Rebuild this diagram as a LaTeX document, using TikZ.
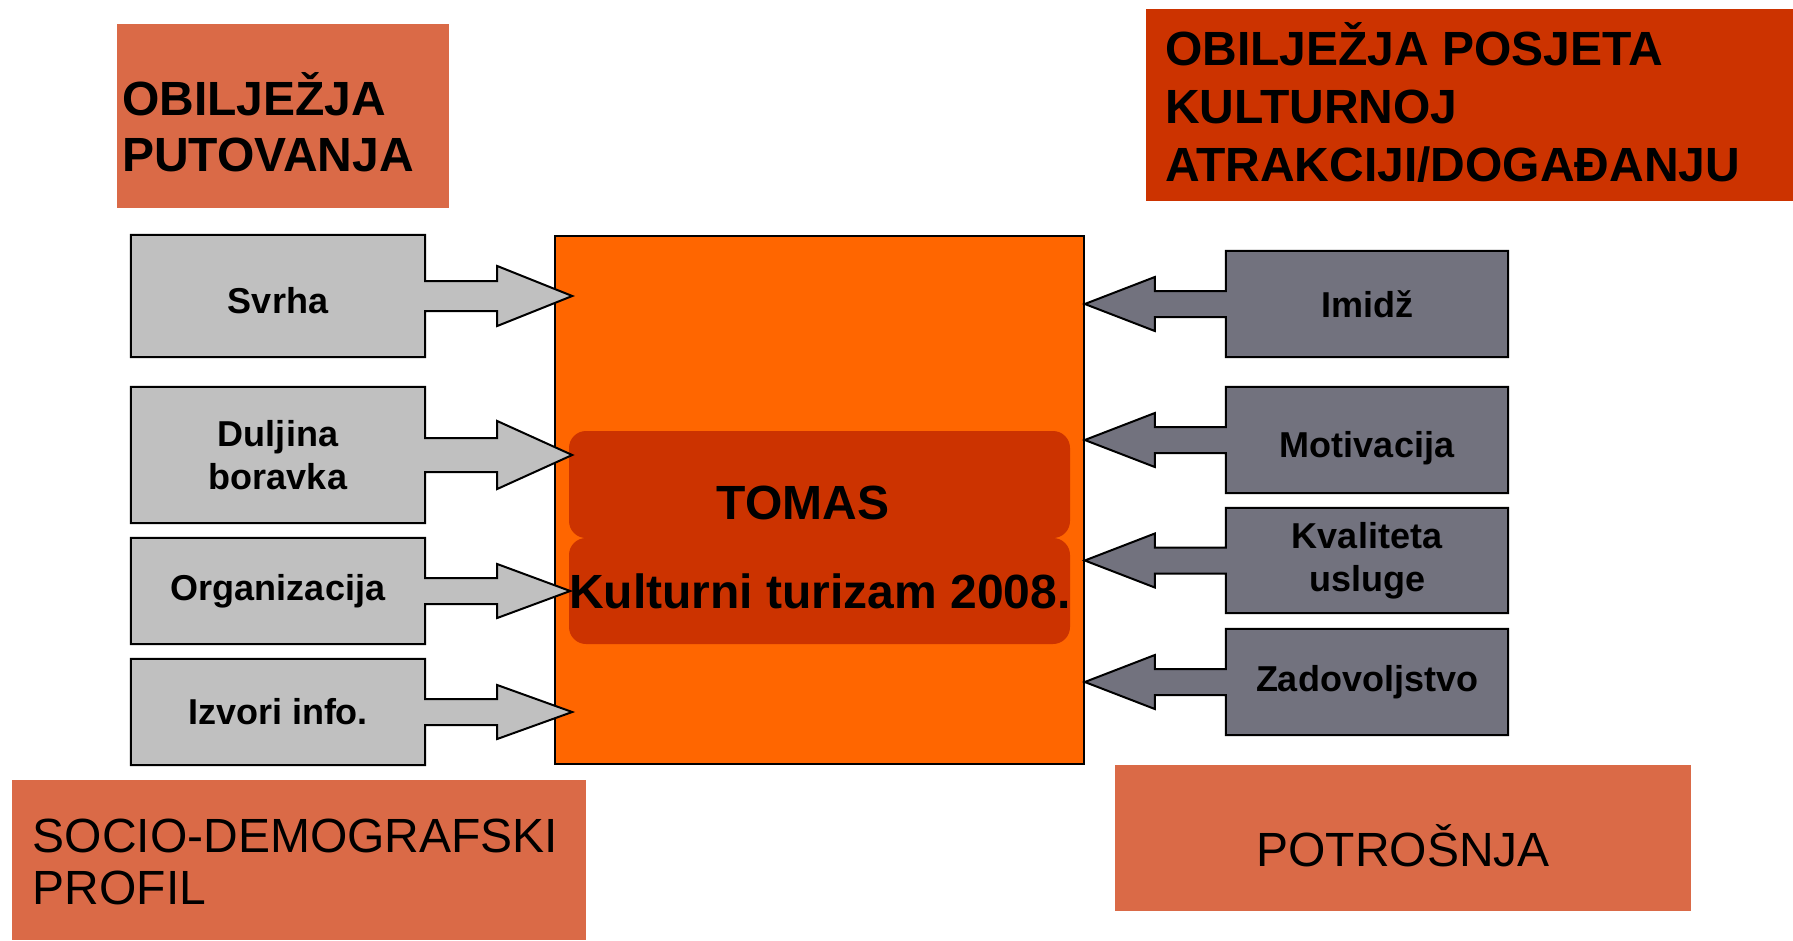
\documentclass[tikz,border=0pt]{standalone}
\usepackage{fontspec}
\setmainfont{Liberation Sans}
\usetikzlibrary{backgrounds}
\definecolor{coral}{RGB}{218,106,71}
\definecolor{rust}{RGB}{204,51,0}
\definecolor{tangerine}{RGB}{255,102,0}
\definecolor{silver}{RGB}{192,192,192}
\definecolor{slate}{RGB}{114,114,126}

\begin{document}
\begin{tikzpicture}[x=1pt,y=-1pt,hdr/.style={inner sep=0pt,anchor=base west,align=left,font=\fontsize{48}{56}\selectfont\bfseries},item/.style={inner sep=0pt,align=center,font=\fontsize{36}{43}\selectfont\bfseries},lbox/.style={item,minimum width=294pt},rbox/.style={item,minimum width=282pt,minimum height=106pt},panel/.style={fill=rust,rounded corners=17pt,minimum width=501pt,inner sep=0pt},title/.style={inner sep=0pt,font=\fontsize{48}{56}\selectfont\bfseries},lcall/.style={fill=silver,draw=black,line width=2pt},rcall/.style={fill=slate,draw=black,line width=2pt}]
\useasboundingbox (0,0) rectangle (1793,940);
% group headings (anchored on the last baseline)
\node[hdr] (travel) at (122,171.5) {OBILJEŽJA\\PUTOVANJA};
\node[hdr,font=\fontsize{48}{58}\selectfont\bfseries] (visit) at (1165,181) {OBILJEŽJA POSJETA\\KULTURNOJ\\ATRAKCIJI/DOGAĐANJU};
\node[hdr,font=\fontsize{48}{52}\selectfont] (socio) at (32.5,904) {SOCIO-DEMOGRAFSKI\\PROFIL};
\node[inner sep=0pt,anchor=base,font=\fontsize{48}{52}\selectfont] (spend) at (1403,866) {POTROŠNJA};
% left factors
\node[lbox,minimum height=122pt,text height=36pt] (svrha) at (278,296) {Svrha};
\node[lbox,minimum height=136pt] (duljina) at (278,455) {Duljina\\boravka};
\node[lbox,minimum height=106pt] (org) at (278,591) {Organizacija};
\node[lbox,minimum height=106pt] (izvori) at (278,712) {Izvori info.};
% right factors
\node[rbox] (imidz) at (1367,304) {Imidž};
\node[rbox,text height=42pt] (motiv) at (1367,440) {Motivacija};
\node[rbox,minimum height=105pt] (kval) at (1367,560.5) {Kvaliteta\\usluge};
\node[rbox] (zadov) at (1367,682) {Zadovoljstvo};
% centre labels
\node[title] (tomaslbl) at (803,503) {TOMAS};
\node[title] (yearlbl) at (820,591) {Kulturni turizam 2008.};
\begin{scope}[on background layer]
\fill[coral] (117,24) rectangle (449,208);
\fill[rust] (1146,9) rectangle (1793,201);
\fill[coral] (11.5,780) rectangle (585.5,940);
\fill[coral] (1114.5,765) rectangle (1690.5,911);
\node[draw=black,line width=1.5pt,fill=tangerine,minimum width=529pt,minimum height=528pt,inner sep=0pt] (core) at (819.5,500) {};
\node[panel,minimum height=107pt] (banner) at (819.5,484.5) {};
\node[panel,minimum height=106pt] (caption) at (819.5,591) {};
% arrow callouts
\filldraw[lcall] (svrha.north west) -- (svrha.north east) -- ([yshift=15pt]svrha.east) -- ++(72,0) -- ++(0,-15) -- ++(75,30) -- ++(-75,30) -- ++(0,-15) -- ++(-72,0) -- (svrha.south east) -- (svrha.south west) -- cycle;
\filldraw[lcall] (duljina.north west) -- (duljina.north east) -- ([yshift=17pt]duljina.east) -- ++(72,0) -- ++(0,-17) -- ++(75,34) -- ++(-75,34) -- ++(0,-17) -- ++(-72,0) -- (duljina.south east) -- (duljina.south west) -- cycle;
\filldraw[lcall] (org.north west) -- (org.north east) -- ([yshift=13pt]org.east) -- ++(72,0) -- ++(0,-14) -- ++(73,27) -- ++(-73,27) -- ++(0,-14) -- ++(-72,0) -- (org.south east) -- (org.south west) -- cycle;
\filldraw[lcall] (izvori.north west) -- (izvori.north east) -- ([yshift=13pt]izvori.east) -- ++(72,0) -- ++(0,-14) -- ++(75,27) -- ++(-75,27) -- ++(0,-14) -- ++(-72,0) -- (izvori.south east) -- (izvori.south west) -- cycle;
\filldraw[rcall] (imidz.north east) -- (imidz.north west) -- ([yshift=13pt]imidz.west) -- ++(-71,0) -- ++(0,-14) -- ++(-70,27) -- ++(70,27) -- ++(0,-14) -- ++(71,0) -- (imidz.south west) -- (imidz.south east) -- cycle;
\filldraw[rcall] (motiv.north east) -- (motiv.north west) -- ([yshift=13pt]motiv.west) -- ++(-71,0) -- ++(0,-14) -- ++(-70,27) -- ++(70,27) -- ++(0,-14) -- ++(71,0) -- (motiv.south west) -- (motiv.south east) -- cycle;
\filldraw[rcall] (kval.north east) -- (kval.north west) -- ([yshift=13pt]kval.west) -- ++(-71,0) -- ++(0,-14) -- ++(-70,27) -- ++(70,27) -- ++(0,-14) -- ++(71,0) -- (kval.south west) -- (kval.south east) -- cycle;
\filldraw[rcall] (zadov.north east) -- (zadov.north west) -- ([yshift=13pt]zadov.west) -- ++(-71,0) -- ++(0,-14) -- ++(-70,27) -- ++(70,27) -- ++(0,-14) -- ++(71,0) -- (zadov.south west) -- (zadov.south east) -- cycle;
\end{scope}
\end{tikzpicture}
\end{document}
